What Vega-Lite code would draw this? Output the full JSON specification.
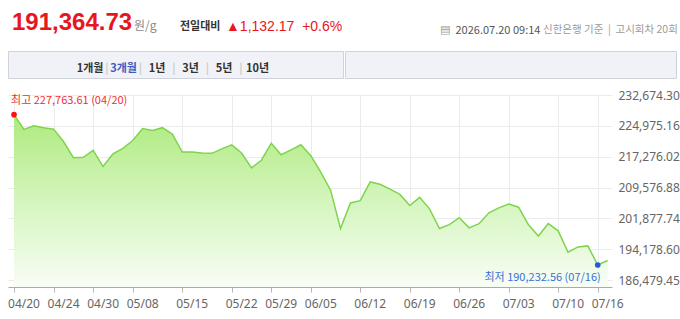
{
  "$schema": "https://vega.github.io/schema/vega-lite/v6.json",
  "padding": {"left": 7, "top": 0, "right": 0, "bottom": 12},
  "background": "white",
  "spacing": 0,
  "config": {"view": {"stroke": null}, "font": "Noto Sans CJK KR"},
  "datasets": {
    "prices": [
      {"d": "04/20", "v": 227763.61}, {"d": "04/21", "v": 224076.9}, {"d": "04/22", "v": 224986.3},
      {"d": "04/23", "v": 224494.7}, {"d": "04/24", "v": 224150.6}, {"d": "04/27", "v": 221053.8},
      {"d": "04/28", "v": 217023.0}, {"d": "04/29", "v": 217121.3}, {"d": "04/30", "v": 218841.8},
      {"d": "05/04", "v": 214811.0}, {"d": "05/06", "v": 218006.1}, {"d": "05/07", "v": 219333.3},
      {"d": "05/08", "v": 221299.6}, {"d": "05/11", "v": 224322.7}, {"d": "05/12", "v": 223831.1},
      {"d": "05/13", "v": 224520.4}, {"d": "05/14", "v": 222921.7}, {"d": "05/15", "v": 218424.0},
      {"d": "05/18", "v": 218450.2}, {"d": "05/19", "v": 218178.2}, {"d": "05/20", "v": 218104.5},
      {"d": "05/21", "v": 219235.0}, {"d": "05/22", "v": 220218.2}, {"d": "05/26", "v": 218190.4},
      {"d": "05/27", "v": 214491.5}, {"d": "05/28", "v": 216384.0}, {"d": "05/29", "v": 220636.0},
      {"d": "06/01", "v": 217760.4}, {"d": "06/02", "v": 218989.3}, {"d": "06/04", "v": 220250.7},
      {"d": "06/05", "v": 217514.6}, {"d": "06/08", "v": 213434.6}, {"d": "06/09", "v": 208912.3},
      {"d": "06/10", "v": 199326.9}, {"d": "06/11", "v": 205717.1}, {"d": "06/12", "v": 206307.0},
      {"d": "06/15", "v": 210976.8}, {"d": "06/16", "v": 210387.0}, {"d": "06/17", "v": 209158.1},
      {"d": "06/18", "v": 207855.4}, {"d": "06/19", "v": 205078.1}, {"d": "06/22", "v": 207118.1},
      {"d": "06/23", "v": 204242.5}, {"d": "06/24", "v": 199350.2}, {"d": "06/25", "v": 200310.0},
      {"d": "06/26", "v": 202030.4}, {"d": "06/29", "v": 199498.9}, {"d": "06/30", "v": 200555.8},
      {"d": "07/01", "v": 203259.3}, {"d": "07/02", "v": 204488.2}, {"d": "07/03", "v": 205471.4},
      {"d": "07/06", "v": 204660.3}, {"d": "07/07", "v": 200280.6}, {"d": "07/08", "v": 197458.9},
      {"d": "07/09", "v": 200580.3}, {"d": "07/10", "v": 198761.6}, {"d": "07/13", "v": 193428.1},
      {"d": "07/14", "v": 194755.3}, {"d": "07/15", "v": 195001.1}, {"d": "07/16", "v": 190232.56},
      {"d": "07/20", "v": 191364.73}
    ],
    "tabs": [
      {"i": 0, "t": "1개월", "role": "tab"}, {"i": 1, "t": "|", "role": "sep"},
      {"i": 2, "t": "3개월", "role": "on"}, {"i": 3, "t": "|", "role": "sep"},
      {"i": 4, "t": "1년", "role": "tab"}, {"i": 5, "t": "|", "role": "sep"},
      {"i": 6, "t": "3년", "role": "tab"}, {"i": 7, "t": "|", "role": "sep"},
      {"i": 8, "t": "5년", "role": "tab"}, {"i": 9, "t": "|", "role": "sep"},
      {"i": 10, "t": "10년", "role": "tab"}
    ],
    "extremes": [
      {"d": "04/20", "v": 227763.61, "kind": "max", "label": "최고 227,763.61 (04/20)"},
      {"d": "07/16", "v": 190232.56, "kind": "min", "label": "최저 190,232.56 (07/16)"}
    ]
  },
  "vconcat": [
    {
      "spacing": 0,
      "hconcat": [
        {"width": 8, "height": 22, "data": {"values": [{"t": "191,364.73"}]},
         "mark": {"type": "text", "font": "Liberation Sans", "fontSize": 24, "fontWeight": "bold", "color": "#e8161e", "align": "left", "baseline": "top"},
         "encoding": {"text": {"field": "t"}}},
        {"width": 2, "height": 42, "data": {"values": [{"t": "원/g"}]},
         "mark": {"type": "text", "fontSize": 12, "color": "#8a8a8a", "align": "left", "baseline": "top"},
         "encoding": {"text": {"field": "t"}}},
        {"width": 46, "height": 42, "data": {"values": [{"t": "전일대비"}]},
         "mark": {"type": "text", "fontSize": 11, "fontWeight": "bold", "color": "#333333", "align": "left", "baseline": "top"},
         "encoding": {"text": {"field": "t"}}},
        {"width": 10, "height": 39, "data": {"values": [{"t": "▲1,132.17\u00a0 +0.6%"}]},
         "mark": {"type": "text", "font": "Liberation Sans", "fontSize": 14, "color": "#e8161e", "align": "left", "baseline": "top"},
         "encoding": {"text": {"field": "t"}}},
        {"width": 96, "height": 20, "data": {"values": [{"t": ""}]},
         "mark": {"type": "text"},
         "encoding": {"text": {"field": "t"}}},
        {"width": 2, "height": 48, "data": {"values": [{"t": "▤"}]},
         "mark": {"type": "text", "font": "DejaVu Sans", "fontSize": 11, "color": "#a0a0a0", "align": "left", "baseline": "top"},
         "encoding": {"text": {"field": "t"}}},
        {"width": 9, "height": 50, "data": {"values": [{"t": "2026.07.20 09:14"}]},
         "mark": {"type": "text", "fontSize": 11, "color": "#555555", "align": "left", "baseline": "top"},
         "encoding": {"text": {"field": "t"}}},
        {"width": 4, "height": 50, "data": {"values": [{"t": "신한은행 기준\u00a0 |\u00a0 고시회차 20회"}]},
         "mark": {"type": "text", "fontSize": 10.5, "color": "#9a9a9a", "align": "left", "baseline": "top"},
         "encoding": {"text": {"field": "t"}}}
      ]
    },
    {
      "spacing": 10,
      "vconcat": [
        {
          "spacing": 0,
          "hconcat": [
            {"width": 335, "height": 27, "view": {"fill": "#f1f2f7", "stroke": "#cfd2da"},
             "data": {"name": "tabs"},
             "mark": {"type": "text", "fontSize": 11, "fontWeight": "bold", "baseline": "top", "dy": -2},
             "encoding": {
               "x": {"field": "i", "type": "ordinal",
                 "scale": {"type": "point", "domain": [-4, -3, -2, -1, 0, 1, 2, 3, 4, 5, 6, 7, 8, 9, 10, 11, 12, 13, 14, 15], "padding": 0.5, "align": 0.9},
                 "axis": null},
               "text": {"field": "t"},
               "color": {"field": "role", "type": "nominal", "scale": {"domain": ["tab", "sep", "on"], "range": ["#333333", "#cccccc", "#3a5bbf"]}, "legend": null}
             }},
            {"width": 331, "height": 27, "view": {"fill": "#f1f2f7", "stroke": "#cfd2da"},
             "data": {"values": [{"t": ""}]},
             "mark": {"type": "text"},
             "encoding": {"text": {"field": "t"}}}
          ]
        },
        {
          "width": 604,
          "height": 192,
          "data": {"name": "prices"},
          "encoding": {
            "x": {"field": "d", "type": "ordinal", "scale": {"type": "point", "padding": 0.525, "align": 0.58},
              "axis": {"values": ["04/20", "04/24", "04/30", "05/08", "05/15", "05/22", "05/29", "06/05", "06/12", "06/19", "06/26", "07/03", "07/10", "07/16"],
                "title": null, "labelAngle": 0, "labelAlign": "left", "labelOffset": -6.5, "labelFont": "Noto Sans", "labelFontSize": 12,
                "labelColor": "#666666", "tickColor": "#b5b5b5", "tickSize": 5, "domainColor": "#aaaaaa", "grid": true, "gridColor": "#ebebeb", "labelPadding": 6}},
            "y": {"field": "v", "type": "quantitative", "scale": {"domain": [184740, 232674.3], "zero": false, "nice": false},
              "axis": {"orient": "right", "values": [186479.45, 194178.6, 201877.74, 209576.88, 217276.02, 224975.16, 232674.3], "format": ",.2f",
                "title": null, "ticks": false, "domain": false, "labelPadding": 6, "labelFont": "Noto Sans", "labelFontSize": 12,
                "labelColor": "#666666", "grid": true, "gridColor": "#ebebeb"}}
          },
          "layer": [
            {"mark": {"type": "area", "opacity": 1, "clip": true, "line": {"color": "#7ed44c", "strokeWidth": 1.5},
              "color": {"gradient": "linear", "x1": 0, "y1": 0, "x2": 0, "y2": 1,
                "stops": [{"offset": 0, "color": "#aeea7e"}, {"offset": 0.5, "color": "#d4f5bd"}, {"offset": 1, "color": "#f8fdf5"}]}},
             "encoding": {"y2": {"datum": 184740}}},
            {"data": {"name": "extremes"}, "transform": [{"filter": "datum.kind === 'max'"}],
             "mark": {"type": "circle", "opacity": 1, "size": 32, "color": "#ff1010"}},
            {"data": {"name": "extremes"}, "transform": [{"filter": "datum.kind === 'min'"}],
             "mark": {"type": "circle", "opacity": 1, "size": 32, "color": "#1f5fd6"}},
            {"data": {"name": "extremes"}, "transform": [{"filter": "datum.kind === 'max'"}],
             "mark": {"type": "text", "align": "left", "baseline": "middle", "dx": -3, "dy": -14, "fontSize": 11, "color": "#f03030"},
             "encoding": {"text": {"field": "label"}}},
            {"data": {"name": "extremes"}, "transform": [{"filter": "datum.kind === 'min'"}],
             "mark": {"type": "text", "align": "right", "baseline": "middle", "dx": 3, "dy": 13, "fontSize": 11, "color": "#3a70d8"},
             "encoding": {"text": {"field": "label"}}}
          ]
        }
      ]
    }
  ]
}
